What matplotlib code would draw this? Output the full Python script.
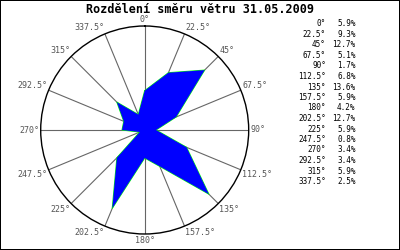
import numpy as np
import matplotlib
matplotlib.use("Agg")
import matplotlib.pyplot as plt

title = "Rozdělení směru větru 31.05.2009"
directions = [0, 22.5, 45, 67.5, 90, 112.5, 135, 157.5, 180, 202.5, 225, 247.5, 270, 292.5, 315, 337.5]
dir_labels = ["0°", "22.5°", "45°", "67.5°", "90°", "112.5°", "135°", "157.5°",
              "180°", "202.5°", "225°", "247.5°", "270°", "292.5°", "315°", "337.5°"]
values = [5.9, 9.3, 12.7, 5.1, 1.7, 6.8, 13.6, 5.9, 4.2, 12.7, 5.9, 0.8, 3.4, 3.4, 5.9, 2.5]

W, H = 400, 250
fig = plt.figure(figsize=(4, 2.5), dpi=100, linewidth=1.2, edgecolor="black")
cx, cy, R = 144.7, 130.0, 104.0
ax = fig.add_axes([(cx - R) / W, (H - cy - R) / H, 2 * R / W, 2 * R / H], projection="polar")
ax.set_theta_zero_location("N")
ax.set_theta_direction(-1)
rmax = 15.6
ax.set_ylim(0, rmax)
ax.set_yticks([])
ax.set_xticks([])
ax.grid(False)
ax.spines["polar"].set_color("black")
ax.spines["polar"].set_linewidth(1.0)

th = np.deg2rad(directions)
for t in th:
    ax.plot([t, t], [0, rmax], color="#666666", lw=0.8, zorder=1)

tc = np.append(th, th[0])
vc = np.append(values, values[0])
ax.fill(tc, vc, color="#0000ff", zorder=3, lw=0)
ax.plot(tc, vc, color="#00ff00", lw=0.8, zorder=2)

mono = "DejaVu Sans Mono"
for d, lab in zip(directions, dir_labels):
    if d == 0 or d == 180:
        ha = "center"
    elif d < 180:
        ha = "left"
    else:
        ha = "right"
    if d == 90 or d == 270:
        va = "center"
    elif d < 90 or d > 270:
        va = "bottom"
    else:
        va = "top"
    ax.text(np.deg2rad(d), rmax * 1.015, lab, ha=ha, va=va, fontsize=6,
            family=mono, color="#555555", clip_on=False)

fig.text(200 / W, 1 - 9.5 / H, title, ha="center", va="center", fontsize=8.5,
         family=mono, fontweight="bold", color="black")

y0, dy = 24.0, 10.5
for i, (lab, v) in enumerate(zip(dir_labels, values)):
    y = 1 - (y0 + i * dy) / H
    fig.text(326 / W, y, lab, ha="right", va="center", fontsize=5.5, family=mono, color="black")
    fig.text(355.5 / W, y, f"{v:.1f}%", ha="right", va="center", fontsize=5.5, family=mono, color="black")

fig.savefig("out.png", dpi=100, edgecolor=fig.get_edgecolor())
